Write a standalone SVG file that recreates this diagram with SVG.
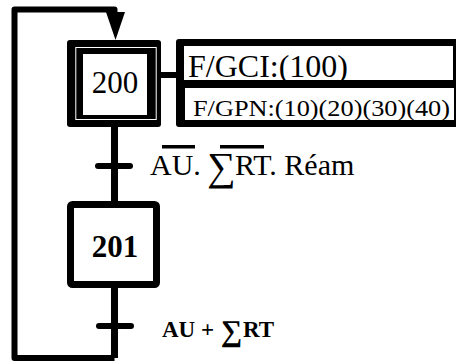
<svg xmlns="http://www.w3.org/2000/svg" width="456" height="362" viewBox="0 0 456 362">
<style>
.ln{fill:none;stroke:#000;stroke-width:7}
.bar{stroke:#000;stroke-width:6;stroke-linecap:round}
.t{font-family:"Liberation Serif","Times New Roman",serif;fill:#000}
</style>
<rect width="456" height="362" fill="#fff"/>
<g id="connectors">
<path class="ln" d="M114.5,127 V201 M114.5,288 V358"/>
<path d="M114.5,358 H14.5 V9.5 H114.5 V16" fill="none" stroke="#000" stroke-width="6" stroke-linejoin="round"/>
<polygon points="106,12 125,12 115.5,40" fill="#000"/>
<line x1="161" y1="75" x2="177" y2="75" stroke="#000" stroke-width="6"/>
</g>
<g id="step200">
<rect x="67" y="40" width="94" height="87" rx="3" fill="#000"/>
<rect x="75.8" y="47.5" width="80.4" height="72" fill="none" stroke="#fff" stroke-width="1"/>
<rect x="83" y="54" width="64" height="61" fill="#fff"/>
<text class="t" x="115" y="92.5" font-size="31" text-anchor="middle">200</text>
</g>
<g id="actions200">
<rect x="176" y="39" width="290" height="88" rx="3" fill="#000"/>
<rect x="184" y="46" width="269" height="34" fill="#fff"/>
<rect x="185" y="88" width="269" height="32" fill="#fff"/>
<text class="t" x="188" y="77" font-size="32">F/GCI:(100)</text>
<text class="t" x="193" y="116" font-size="24" textLength="257" lengthAdjust="spacingAndGlyphs">F/GPN:(10)(20)(30)(40)</text>
</g>
<g id="transition1">
<line class="bar" x1="98" y1="166" x2="130" y2="166"/>
<text class="t" font-size="30"><tspan x="150" y="175">AU.</tspan><tspan x="207" y="180" font-size="40">∑</tspan><tspan x="235" y="175">RT. Réam</tspan></text>
<rect x="162" y="145" width="33" height="3.5" fill="#000"/>
<rect x="220" y="145" width="44" height="3.5" fill="#000"/>
</g>
<g id="step201">
<rect x="70.5" y="204.5" width="86" height="80" rx="2" fill="#fff" stroke="#000" stroke-width="7"/>
<text class="t" x="115" y="257" font-size="31" font-weight="bold" text-anchor="middle">201</text>
</g>
<g id="transition2">
<line class="bar" x1="99" y1="326" x2="131" y2="326"/>
<text class="t" font-size="23" font-weight="bold"><tspan x="162" y="337">AU</tspan><tspan x="201" y="337">+</tspan><tspan x="221" y="341" font-size="30">∑</tspan><tspan x="243" y="337">RT</tspan></text>
</g>
</svg>
